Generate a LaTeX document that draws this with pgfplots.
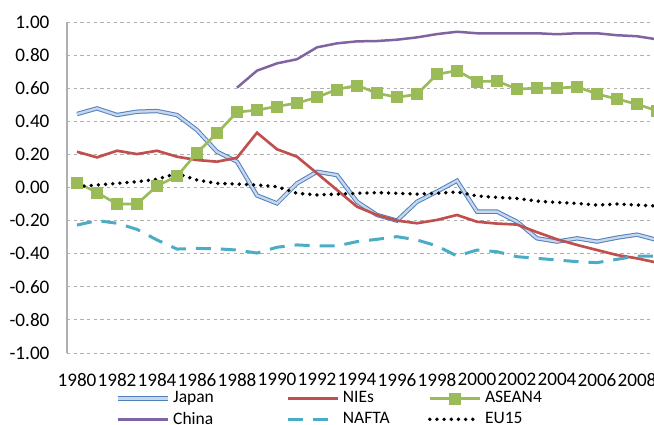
\documentclass[border=0pt]{standalone}
\usepackage{fontspec}
\setmainfont{Carlito}
\usepackage{pgfplots}
\pgfplotsset{compat=1.18}
\definecolor{cJapan}{RGB}{79,129,189}
\definecolor{cJapanIn}{RGB}{200,215,236}
\definecolor{cNIE}{RGB}{192,80,77}
\definecolor{cASEAN}{RGB}{155,187,89}
\definecolor{cChina}{RGB}{128,100,162}
\definecolor{cNAFTA}{RGB}{75,172,198}
\definecolor{cGrid}{RGB}{175,175,175}
\begin{document}
\begin{tikzpicture}
\useasboundingbox (-40.2pt,-42.6pt) rectangle (352.2pt,211.8pt);
\clip (-40.2pt,-42.6pt) rectangle (352.2pt,211.8pt);
\begin{axis}[
  at={(0pt,0pt)}, anchor=south west,
  scale only axis, width=360pt, height=198.6pt,
  xmin=1979.5, xmax=2009.5, ymin=-1, ymax=1,
  xtick={1980,1982,...,2008},
  ytick={-1,-0.8,...,1.01},
  axis lines*=left,
  x axis line style={draw=none},
  y axis line style={draw=cGrid, line width=0.8pt},
  major tick length=0pt,
  ymajorgrids, grid style={cGrid, dash pattern=on 2pt off 2pt, line width=0.5pt},
  /pgf/number format/assume math mode=true,
  tick label style={font=\fontsize{11.5}{13}\selectfont},
  xticklabel style={/pgf/number format/1000 sep={}, yshift=-8.5pt},
  yticklabel style={/pgf/number format/.cd, fixed, fixed zerofill, precision=2, /tikz/.cd, xshift=-7pt},
  legend columns=3,
  legend cell align=left,
  legend style={at={(0.072,-0.095)}, anchor=north west, draw=none, fill=none,
    font=\fontsize{10.5}{12}\selectfont, row sep=0pt},
  legend image code/.code={\draw[mark repeat=2,mark phase=2,#1] plot coordinates {(0pt,0pt) (15pt,0pt) (30pt,0pt)};},
]
\addplot[cJapan, line width=0.6pt, double=cJapanIn, double distance=1.4pt, no markers] coordinates {
(1980,0.444)(1981,0.478)(1982,0.438)(1983,0.458)(1984,0.462)(1985,0.438)(1986,0.347)(1987,0.216)(1988,0.156)(1989,-0.048)
(1990,-0.096)(1991,0.025)(1992,0.095)(1993,0.075)(1994,-0.086)(1995,-0.166)(1996,-0.200)(1997,-0.086)(1998,-0.025)(1999,0.041)
(2000,-0.146)(2001,-0.146)(2002,-0.207)(2003,-0.307)(2004,-0.327)(2005,-0.307)(2006,-0.327)(2007,-0.303)(2008,-0.285)(2009,-0.317)};
\addlegendentry{\makebox[66pt][l]{Japan}}
\addplot[cNIE, line width=1.6pt, no markers] coordinates {
(1980,0.216)(1981,0.182)(1982,0.222)(1983,0.202)(1984,0.222)(1985,0.186)(1986,0.166)(1987,0.156)(1988,0.180)(1989,0.331)
(1990,0.231)(1991,0.186)(1992,0.086)(1993,-0.015)(1994,-0.116)(1995,-0.166)(1996,-0.200)(1997,-0.216)(1998,-0.196)(1999,-0.166)
(2000,-0.207)(2001,-0.218)(2002,-0.224)(2003,-0.270)(2004,-0.313)(2005,-0.347)(2006,-0.378)(2007,-0.408)(2008,-0.428)(2009,-0.454)};
\addlegendentry{\makebox[49pt][l]{NIEs}}
\addplot[cASEAN, line width=1.6pt, mark=square*, mark size=3.3pt, mark options={fill=cASEAN, draw=cASEAN, line width=0.4pt}] coordinates {
(1980,0.030)(1981,-0.030)(1982,-0.100)(1983,-0.100)(1984,0.010)(1985,0.068)(1986,0.210)(1987,0.328)(1988,0.455)(1989,0.468)
(1990,0.490)(1991,0.510)(1992,0.545)(1993,0.593)(1994,0.617)(1995,0.570)(1996,0.545)(1997,0.563)(1998,0.684)(1999,0.706)
(2000,0.640)(2001,0.643)(2002,0.595)(2003,0.600)(2004,0.600)(2005,0.609)(2006,0.565)(2007,0.535)(2008,0.503)(2009,0.464)};
\addlegendentry{ASEAN4}
\addplot[cChina, line width=1.5pt, no markers] coordinates {
(1988,0.603)(1989,0.706)(1990,0.750)(1991,0.775)(1992,0.847)(1993,0.871)(1994,0.883)(1995,0.885)(1996,0.893)(1997,0.907)
(1998,0.927)(1999,0.941)(2000,0.932)(2001,0.932)(2002,0.932)(2003,0.932)(2004,0.926)(2005,0.932)(2006,0.932)(2007,0.920)
(2008,0.914)(2009,0.895)};
\addlegendentry{\makebox[66pt][l]{China}}
\addplot[cNAFTA, line width=1.8pt, dash pattern=on 9pt off 6pt, no markers] coordinates {
(1980,-0.227)(1981,-0.200)(1982,-0.216)(1983,-0.253)(1984,-0.317)(1985,-0.372)(1986,-0.368)(1987,-0.370)(1988,-0.378)(1989,-0.396)
(1990,-0.361)(1991,-0.347)(1992,-0.353)(1993,-0.353)(1994,-0.327)(1995,-0.313)(1996,-0.297)(1997,-0.317)(1998,-0.353)(1999,-0.414)
(2000,-0.378)(2001,-0.388)(2002,-0.418)(2003,-0.428)(2004,-0.438)(2005,-0.448)(2006,-0.454)(2007,-0.434)(2008,-0.414)(2009,-0.414)};
\addlegendentry{\makebox[49pt][l]{NAFTA}}
\addplot[black, line width=2.3pt, line cap=round, dash pattern=on 0pt off 4.3pt, no markers] coordinates {
(1980,0.005)(1981,0.015)(1982,0.025)(1983,0.035)(1984,0.050)(1985,0.085)(1986,0.045)(1987,0.025)(1988,0.021)(1989,0.015)
(1990,0.005)(1991,-0.035)(1992,-0.045)(1993,-0.040)(1994,-0.035)(1995,-0.031)(1996,-0.035)(1997,-0.040)(1998,-0.035)(1999,-0.027)
(2000,-0.051)(2001,-0.060)(2002,-0.066)(2003,-0.082)(2004,-0.090)(2005,-0.096)(2006,-0.106)(2007,-0.100)(2008,-0.106)(2009,-0.112)};
\addlegendentry{EU15}
\end{axis}
\end{tikzpicture}
\end{document}
